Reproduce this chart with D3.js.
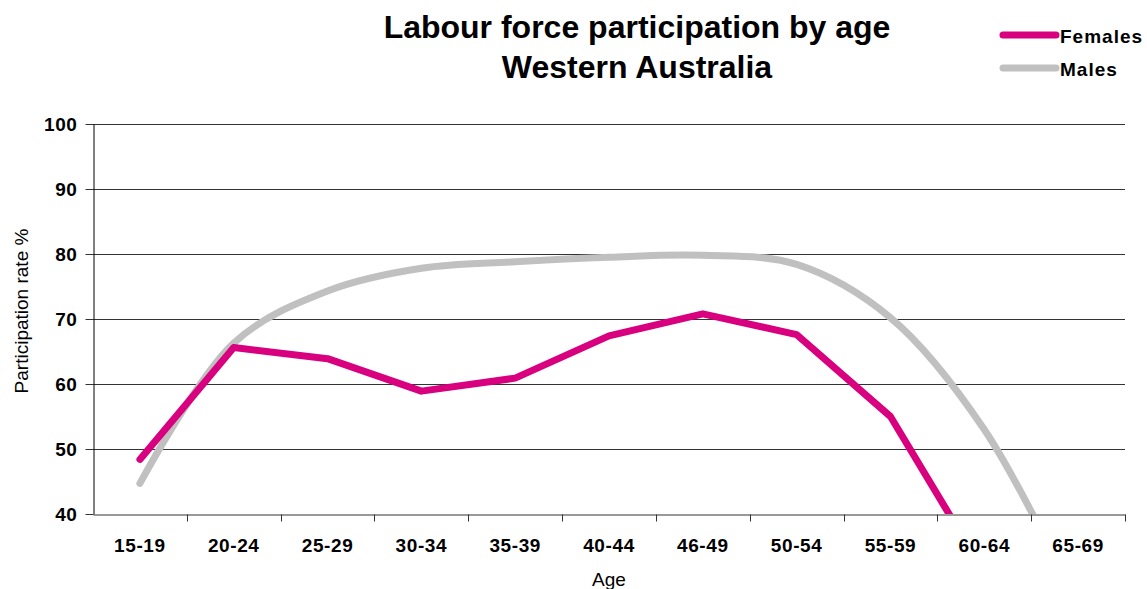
<!DOCTYPE html>
<html>
<head>
<meta charset="utf-8">
<script src="https://cdn.jsdelivr.net/npm/d3@7"></script>
<style>
  html, body { margin: 0; padding: 0; background: #fff; }
  svg { display: block; font-family: "Liberation Sans", Arial, sans-serif; }
</style>
</head>
<body>
<div id="chart"></div>
<script>
"use strict";

const ages = ['15-19', '20-24', '25-29', '30-34', '35-39', '40-44',
              '46-49', '50-54', '55-59', '60-64', '65-69']

// participation rate %
const females = [48.4, 65.6, 63.9, 58.9, 60.9, 67.4, 70.8, 67.6, 55.0, 31.0, 16.0]
const males   = [44.7, 66.3, 74.3, 77.8, 78.8, 79.5, 79.8, 78.4, 70.2, 53.0, 26.0]

const yTicks = [40, 50, 60, 70, 80, 90, 100]

const series = [
  { name: 'Females', values: females, color: '#d8007f', curve: d3.curveLinear },
  { name: 'Males', values: males, color: '#c0c0c0', curve: d3.curveCatmullRom },
]

const d = {
  WIDTH: 1147,
  HEIGHT: 589,
  LEFT: 93,
  RIGHT: 1125,
  TOP: 124,
  BOTTOM: 514,
}

const svg = d3.select('#chart')
  .append('svg')
    .attr('width', d.WIDTH)
    .attr('height', d.HEIGHT)

const x = d3.scaleBand()
  .domain(ages)
  .range([d.LEFT, d.RIGHT])
  .paddingInner(0)
  .paddingOuter(0)

const y = d3.scaleLinear()
  .domain([40, 100])
  .range([d.BOTTOM, d.TOP])

const cx = a => x(a) + x.bandwidth() / 2

// title
svg.append('text')
  .attr('x', 637)
  .attr('text-anchor', 'middle')
  .attr('font-size', 32)
  .attr('font-weight', 'bold')
  .selectAll('tspan')
  .data(['Labour force participation by age', 'Western Australia'])
  .join('tspan')
    .attr('x', 637)
    .attr('y', (t, i) => 38 + i * 40)
    .text(t => t)

// gridlines
svg.append('g')
  .selectAll('line')
  .data(yTicks.filter(v => v > 40))
  .join('line')
    .attr('x1', d.LEFT)
    .attr('x2', d.RIGHT)
    .attr('y1', v => Math.round(y(v)) + 0.5)
    .attr('y2', v => Math.round(y(v)) + 0.5)
    .attr('stroke', '#333')
    .attr('stroke-width', 1)

// clip the lines to the plot area
svg.append('clipPath')
    .attr('id', 'plot-clip')
  .append('rect')
    .attr('x', d.LEFT)
    .attr('y', d.TOP - 10)
    .attr('width', d.RIGHT - d.LEFT)
    .attr('height', d.BOTTOM - d.TOP + 10)

const linesG = svg.append('g').attr('clip-path', 'url(#plot-clip)')

// males first so females draws on top
series.slice().reverse().forEach(s => {
  const line = d3.line()
    .x((v, i) => cx(ages[i]))
    .y(v => y(v))
    .curve(s.curve)

  linesG.append('path')
    .datum(s.values)
    .attr('d', line)
    .attr('fill', 'none')
    .attr('stroke', s.color)
    .attr('stroke-width', 7)
    .attr('stroke-linecap', 'round')
    .attr('stroke-linejoin', 'round')
})

// y axis
const yAxisG = svg.append('g')
  .attr('transform', `translate(${d.LEFT + 0.5},0)`)
  .call(d3.axisLeft(y).tickValues(yTicks).tickSize(8).tickPadding(8).tickSizeOuter(0))

yAxisG.select('.domain').attr('stroke', '#000')
yAxisG.selectAll('.tick line').attr('stroke', '#333')
yAxisG.selectAll('.tick text')
  .attr('font-size', 19)
  .attr('font-weight', 'bold')
  .attr('letter-spacing', 0.6)
  .attr('font-family', '"Liberation Sans", Arial, sans-serif')
  .attr('fill', '#000')

// x axis: labels at category centres, ticks between categories
const xAxisG = svg.append('g')
  .attr('transform', `translate(0,${d.BOTTOM + 0.5})`)
  .call(d3.axisBottom(x).tickSize(0).tickPadding(24).tickSizeOuter(0))

xAxisG.select('.domain').attr('stroke', '#333')
xAxisG.selectAll('.tick text')
  .attr('font-size', 19)
  .attr('font-weight', 'bold')
  .attr('letter-spacing', 0.6)
  .attr('font-family', '"Liberation Sans", Arial, sans-serif')
  .attr('fill', '#000')

xAxisG.append('g')
  .selectAll('line')
  .data(ages.slice(1).concat(['end']))
  .join('line')
    .attr('x1', a => Math.round(a === 'end' ? d.RIGHT : x(a)) + 0.5)
    .attr('x2', a => Math.round(a === 'end' ? d.RIGHT : x(a)) + 0.5)
    .attr('y1', 0)
    .attr('y2', 7)
    .attr('stroke', '#333')

// axis titles
svg.append('text')
  .attr('transform', 'translate(28,311) rotate(-90)')
  .attr('text-anchor', 'middle')
  .attr('font-size', 19)
  .text('Participation rate %')

svg.append('text')
  .attr('x', 609)
  .attr('y', 586)
  .attr('text-anchor', 'middle')
  .attr('font-size', 19)
  .text('Age')

// legend
const legend = svg.append('g')
  .selectAll('g')
  .data(series)
  .join('g')
    .attr('transform', (s, i) => `translate(1003,${35 + i * 33})`)

legend.append('line')
  .attr('x1', 0)
  .attr('x2', 53)
  .attr('stroke', s => s.color)
  .attr('stroke-width', 7)
  .attr('stroke-linecap', 'round')

legend.append('text')
  .attr('x', 57)
  .attr('y', 8)
  .attr('font-size', 19)
  .attr('font-weight', 'bold')
  .attr('letter-spacing', 1)
  .text(s => s.name)
</script>
</body>
</html>
